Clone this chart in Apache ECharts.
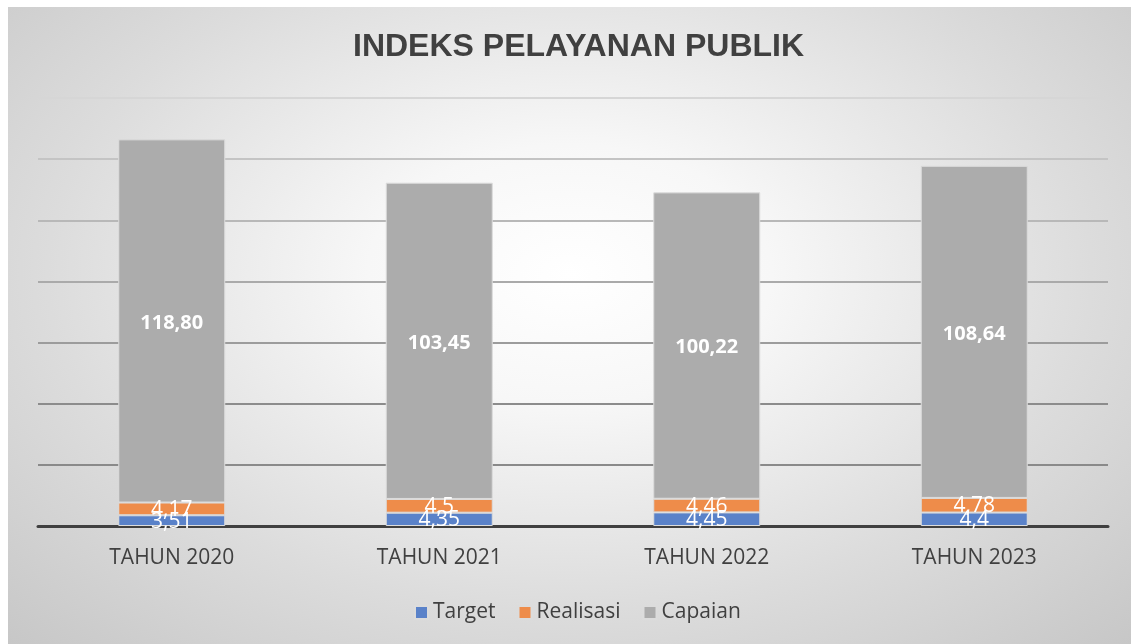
<!DOCTYPE html>
<html>
<head>
<meta charset="utf-8">
<script src="https://cdn.jsdelivr.net/npm/echarts@6/dist/echarts.min.js"></script>
<style>
html, body { margin: 0; padding: 0; background: #ffffff; }
.bg-box {
    position: absolute; left: 8px; top: 7px; width: 1123px; height: 637px;
    background: radial-gradient(ellipse 75% 85% at 50% 42%, #ffffff 0%, #f7f7f7 24%, #dcdcdc 62%, #c4c4c4 100%);
}
.echarts-box { position: absolute; left: 0; top: 0; width: 1131px; height: 644px; }
</style>
</head>
<body>
<div class="bg-box"></div>
<div class="echarts-box" id="chart"></div>
<script>
// data
var categories = ['TAHUN 2020', 'TAHUN 2021', 'TAHUN 2022', 'TAHUN 2023'];
var targetData = [3.51, 4.35, 4.45, 4.4];
var realisasiData = [4.17, 4.5, 4.46, 4.78];
var capaianData = [118.80, 103.45, 100.22, 108.64];

// split line colours, light at the top, darker near the axis
var gridColors = ['#888888', '#8a8a8a', '#8c8c8c', '#9c9c9c', '#aaaaaa', '#b8b8b8', '#c4c4c4', '#d6d6d6'];

function initEcharts() {
    var myChart = echarts.init(document.getElementById('chart'));
    var smallLabel = {
        show: true,
        position: 'inside',
        color: '#ffffff',
        fontSize: 21,
        fontFamily: 'Open Sans',
        offset: [0, 1],
        formatter: function (p) {
            return String(p.value).replace('.', ',');
        }
    };
    var option = {
        animation: false,
        title: {
            text: 'INDEKS PELAYANAN PUBLIK',
            left: 348,
            top: 26,
            textStyle: {
                fontFamily: 'Liberation Sans',
                fontWeight: 'bold',
                fontSize: 32,
                color: '#404040'
            }
        },
        legend: {
            left: 409,
            top: 597,
            itemWidth: 13,
            itemHeight: 13,
            itemGap: 22,
            icon: 'rect',
            textStyle: {
                fontFamily: 'Open Sans',
                fontSize: 21,
                color: '#404040'
            },
            data: ['Target', 'Realisasi', 'Capaian']
        },
        grid: {
            left: 38,
            right: 23,
            top: 98,
            bottom: 118,
            containLabel: false
        },
        xAxis: {
            type: 'category',
            data: categories,
            axisTick: { show: false },
            axisLine: {
                show: true,
                lineStyle: { color: '#404040', width: 3 }
            },
            axisLabel: {
                margin: 22,
                fontFamily: 'Open Sans',
                fontSize: 21,
                color: '#404040'
            }
        },
        yAxis: {
            type: 'value',
            min: 0,
            max: 140,
            interval: 20,
            axisLabel: { show: false },
            axisLine: { show: false },
            axisTick: { show: false },
            splitLine: {
                show: true,
                lineStyle: { color: gridColors, width: 2 }
            }
        },
        series: [
            {
                name: 'Target',
                type: 'bar',
                stack: 'total',
                barWidth: '40%',
                data: targetData,
                itemStyle: { color: '#5a82c9', borderColor: '#dcdcdc', borderWidth: 1 },
                label: smallLabel
            },
            {
                name: 'Realisasi',
                type: 'bar',
                stack: 'total',
                data: realisasiData,
                itemStyle: { color: '#ee8c4a', borderColor: '#dcdcdc', borderWidth: 1 },
                label: smallLabel
            },
            {
                name: 'Capaian',
                type: 'bar',
                stack: 'total',
                data: capaianData,
                itemStyle: { color: '#acacac', borderColor: '#dcdcdc', borderWidth: 1 },
                label: {
                    show: true,
                    position: 'inside',
                    color: '#ffffff',
                    fontSize: 20,
                    fontWeight: 'bold',
                    fontFamily: 'Open Sans',
                    offset: [0, 2],
                    formatter: function (p) {
                        return p.value.toFixed(2).replace('.', ',');
                    }
                }
            }
        ]
    };
    myChart.setOption(option);
}
initEcharts();
</script>
</body>
</html>
